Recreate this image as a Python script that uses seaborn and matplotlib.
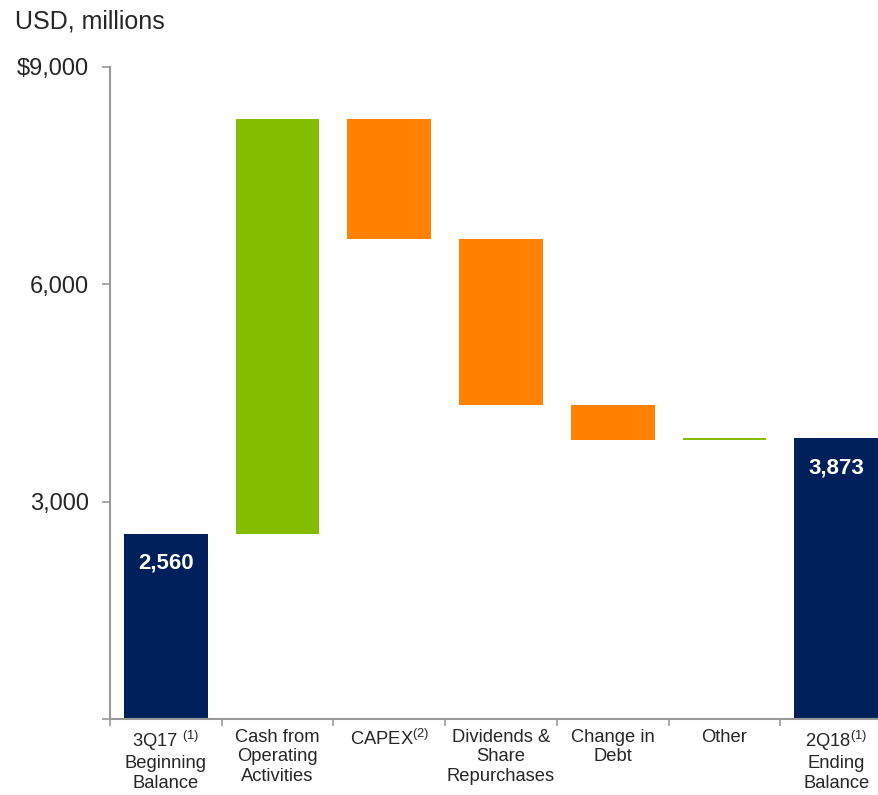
import numpy as np
import pandas as pd
import matplotlib
matplotlib.use("Agg")
import matplotlib.pyplot as plt
import seaborn as sns

sns.set_style("ticks")
plt.rcParams['font.family'] = ['Liberation Sans', 'DejaVu Sans']
plt.rcParams['mathtext.fontset'] = 'custom'
plt.rcParams['mathtext.rm'] = 'Liberation Sans'
plt.rcParams['mathtext.it'] = 'Liberation Sans'

# waterfall data (USD millions)
categories = ["3Q17 $^{(1)}$\nBeginning\nBalance", "Cash from\nOperating\nActivities",
              "CAPEX$^{(2)}$", "Dividends &\nShare\nRepurchases", "Change in\nDebt",
              "Other", "2Q18$^{(1)}$\nEnding\nBalance"]
values = [2560, 5720, -1660, -2280, -490, 23, 3873]
kinds = ["total", "up", "down", "down", "down", "up", "total"]
yticks = [0, 3000, 6000, 9000]
ytick_labels = ["", "3,000", "6,000", r"\$9,000"]

# bottoms / heights for the floating bars
bottoms, heights = [], []
running = 0
for v, k in zip(values, kinds):
    if k == "total":
        bottoms.append(0)
        heights.append(v)
        running = v
    else:
        bottoms.append(min(running, running + v))
        heights.append(abs(v))
        running += v

df = pd.DataFrame({"cat": categories, "height": heights, "bottom": bottoms, "kind": kinds})

colors = {"total": "#00205B", "up": "#84BD00", "down": "#FF8200"}

fig = plt.figure(figsize=(8.79, 7.95), dpi=100)
ax = fig.add_axes([110 / 879, 76 / 795, 782 / 879, 652 / 795])

for k, c in colors.items():
    sub = df[df["kind"] == k]
    sns.barplot(data=sub, x="cat", y="height", order=categories, color=c,
                width=0.75, errorbar=None, bottom=sub["bottom"].values,
                saturation=1, linewidth=0, ax=ax)

# value labels on the total bars
for i, (v, k) in enumerate(zip(values, kinds)):
    if k == "total":
        ax.annotate(f"{v:,}", xy=(i, v), xytext=(0, -21), textcoords="offset points",
                    ha="center", va="center", color="white", fontsize=16,
                    fontweight="bold")

ax.set_xlim(-0.5, 6.5)
ax.set_ylim(0, 9000)
ax.set_yticks(yticks)
ax.set_yticklabels(ytick_labels, fontsize=17)
ax.set_xticks(np.arange(-0.5, 6.5, 1), minor=False)
ax.set_xticklabels([])
ax.set_xticks(np.arange(0, 7), minor=True)
ax.set_xticklabels(categories, minor=True, fontsize=13.2, linespacing=1.2)
ax.tick_params(axis="x", which="minor", length=0, pad=7)
ax.tick_params(axis="x", which="major", length=5, width=1.2, color="#999999")
ax.tick_params(axis="y", length=6, width=1.2, color="#999999", pad=9)
ax.set_xlabel("")
ax.set_ylabel("")

sns.despine(ax=ax, top=True, right=True)
for s in ["left", "bottom"]:
    ax.spines[s].set_color("#999999")
    ax.spines[s].set_linewidth(1.5)

fig.text(15 / 879, 1 - 22 / 795, "USD, millions", fontsize=18, va="center", ha="left")

fig.savefig("out.png", dpi=100)
